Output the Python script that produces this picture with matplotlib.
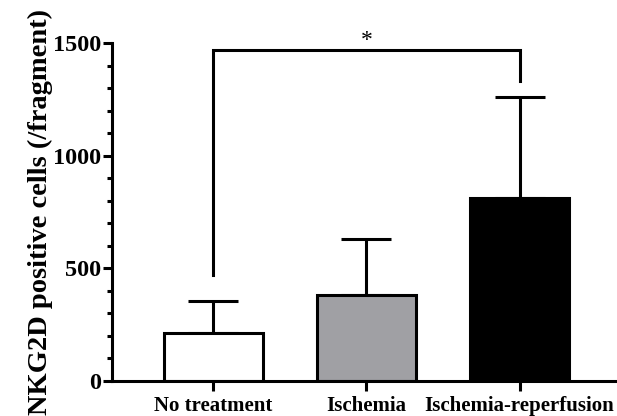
import numpy as np
import matplotlib
matplotlib.use('Agg')
import matplotlib.pyplot as plt
from matplotlib.ticker import MultipleLocator

# data
groups = ['No treatment', 'Ischemia', 'Ischemia-reperfusion']
means = [215, 380, 810]
sd = [142, 252, 452]
colors = ['white', '#a0a0a4', 'black']

plt.rcParams['font.family'] = ['Liberation Serif', 'DejaVu Serif']
plt.rcParams['font.weight'] = 'bold'

fig = plt.figure(figsize=(6.17, 4.16), dpi=100)
ax = fig.add_axes([0.1815, 0.0841, 0.8185, 0.8125])

x = np.arange(len(groups))
lw = 2.2
ax.bar(x, means, width=0.645, color=colors, edgecolor='black', linewidth=lw, zorder=2)
ax.errorbar(x, means, yerr=[np.zeros(3), sd], fmt='none', ecolor='black',
            elinewidth=lw, capsize=18, capthick=lw, zorder=1)

ax.set_xlim(-0.663, 2.637)
ax.set_ylim(0, 1500)
ax.yaxis.set_major_locator(MultipleLocator(500))
ax.yaxis.set_minor_locator(MultipleLocator(100))
ax.set_xticks(x)
ax.set_xticklabels(groups, fontsize=15, fontweight='bold')
for lab in ax.get_yticklabels():
    lab.set_fontweight('bold')
ax.tick_params(axis='y', which='major', length=6.5, width=lw, labelsize=17.5, pad=1)
ax.tick_params(axis='y', which='minor', length=3.8, width=lw)
ax.tick_params(axis='x', length=7, width=lw, pad=4)
ax.set_ylabel('NKG2D positive cells (/fragment)', fontsize=20.5, fontweight='bold', labelpad=0.5)

for s in ['top', 'right']:
    ax.spines[s].set_visible(False)
for s in ['left', 'bottom']:
    ax.spines[s].set_linewidth(lw)

# significance bracket
yb = 1470
ax.plot([0, 0, 2, 2], [470, yb, yb, 1330], color='black', lw=lw, clip_on=False,
        solid_joinstyle='miter')
ax.text(1, yb - 5, '*', ha='center', va='bottom', fontsize=17, fontweight='normal')

fig.savefig('out.png', dpi=100)
